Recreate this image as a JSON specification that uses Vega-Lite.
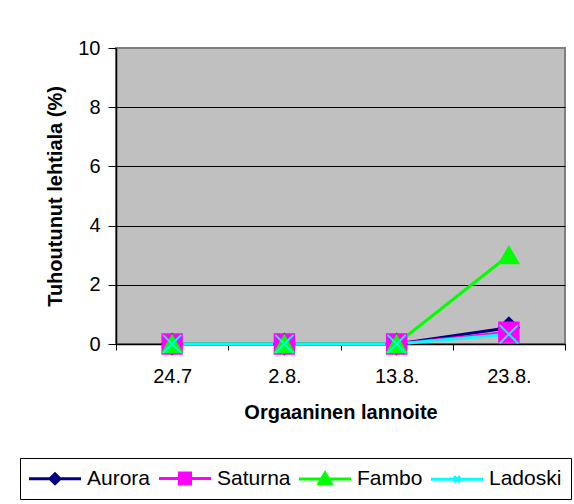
{
  "$schema": "https://vega.github.io/schema/vega-lite/v6.json",
  "width": 449,
  "height": 296,
  "autosize": {"type": "none"},
  "padding": {"left": 116, "top": 48, "right": 9, "bottom": 160},
  "background": "white",
  "config": {
    "font": "Liberation Sans",
    "view": {"fill": "#C0C0C0", "stroke": "#808080", "strokeWidth": 2},
    "axis": {"labelColor": "black", "titleColor": "black", "domainColor": "black", "tickColor": "black", "labelFont": "Liberation Sans", "titleFont": "Liberation Sans"}
  },
  "data": {
    "values": [
      {"date": "24.7", "series": "Aurora", "marker": "Aurora", "value": 0},
      {"date": "2.8.", "series": "Aurora", "marker": "Aurora", "value": 0},
      {"date": "13.8.", "series": "Aurora", "marker": "Aurora", "value": 0},
      {"date": "23.8.", "series": "Aurora", "marker": "Aurora", "value": 0.55},
      {"date": "24.7", "series": "Saturna", "marker": "Saturna", "value": 0},
      {"date": "2.8.", "series": "Saturna", "marker": "Saturna", "value": 0},
      {"date": "13.8.", "series": "Saturna", "marker": "Saturna", "value": 0},
      {"date": "23.8.", "series": "Saturna", "marker": "Saturna", "value": 0.4},
      {"date": "24.7", "series": "Fambo", "marker": "Fambo", "value": 0},
      {"date": "2.8.", "series": "Fambo", "marker": "Fambo", "value": 0},
      {"date": "13.8.", "series": "Fambo", "marker": "Fambo", "value": 0},
      {"date": "23.8.", "series": "Fambo", "marker": "Fambo", "value": 3.0},
      {"date": "24.7", "series": "Ladoski", "marker": "Ladoski", "value": 0},
      {"date": "2.8.", "series": "Ladoski", "marker": "Ladoski", "value": 0},
      {"date": "13.8.", "series": "Ladoski", "marker": "Ladoski", "value": 0},
      {"date": "23.8.", "series": "Ladoski", "marker": "Ladoski", "value": 0.33}
    ]
  },
  "encoding": {
    "x": {
      "field": "date",
      "type": "nominal",
      "sort": ["24.7", "2.8.", "13.8.", "23.8."],
      "bandPosition": 0.5,
      "scale": {"type": "band", "paddingInner": 0, "paddingOuter": 0},
      "axis": {
        "title": "Orgaaninen lannoite",
        "titleFontSize": 20,
        "titleFontWeight": "bold",
        "titlePadding": 16,
        "labelFontSize": 20,
        "labelAngle": 0,
        "labelPadding": 16,
        "tickBand": "extent",
        "tickSize": 6,
        "domainWidth": 1.5,
        "grid": false
      }
    },
    "y": {
      "field": "value",
      "type": "quantitative",
      "scale": {"domain": [0, 10], "nice": false},
      "axis": {
        "title": "Tuhoutunut lehtiala (%)",
        "titleFontSize": 20,
        "titleFontWeight": "bold",
        "titlePadding": 12,
        "values": [0, 2, 4, 6, 8, 10],
        "labelFontSize": 20,
        "labelPadding": 8,
        "tickSize": 8,
        "domainWidth": 1.5,
        "grid": true,
        "gridColor": {"condition": {"test": "datum.value === 10", "value": "#808080"}, "value": "black"},
        "gridWidth": 1.2,
        "gridOpacity": 1
      }
    }
  },
  "layer": [
    {
      "mark": {"type": "line", "strokeWidth": 3},
      "encoding": {
        "color": {
          "field": "series",
          "type": "nominal",
          "sort": ["Aurora", "Saturna", "Fambo", "Ladoski"],
          "scale": {"domain": ["Aurora", "Saturna", "Fambo", "Ladoski"], "range": ["#000080", "#FF00FF", "#00FF00", "#00FFFF"]},
          "legend": {
            "title": null,
            "orient": "none",
            "legendX": -96,
            "legendY": 410,
            "direction": "horizontal",
            "columns": 4,
            "symbolSize": 400,
            "symbolStrokeWidth": 3,
            "symbolType": "M-1.15,0L4.05,0",
            "labelFontSize": 21,
            "labelColor": "black",
            "labelFont": "Liberation Sans",
            "labelOffset": 35,
            "columnPadding": 2,
            "strokeColor": "black",
            "fillColor": "white",
            "padding": 9,
            "encode": {
              "symbols": {
                "update": {
                  "shape": {"signal": "datum.value === 'Aurora' ? 'M-1.15,0L4.05,0M1.45,-0.5L1.95,0L1.45,0.5L0.95,0Z' : datum.value === 'Saturna' ? 'M-1.15,0L4.05,0M0.9,-0.55L2.0,-0.55L2.0,0.55L0.9,0.55Z' : datum.value === 'Fambo' ? 'M-1.15,0L4.05,0M1.45,-0.6L2.05,0.45L0.85,0.45Z' : 'M-1.15,0L4.05,0M1.15,-0.3L1.75,0.3M1.15,0.3L1.75,-0.3'"},
                  "fill": {"signal": "datum.value === 'Aurora' ? '#000080' : datum.value === 'Saturna' ? '#FF00FF' : datum.value === 'Fambo' ? '#00FF00' : '#00FFFF'"},
                  "stroke": {"signal": "datum.value === 'Aurora' ? '#000080' : datum.value === 'Saturna' ? '#FF00FF' : datum.value === 'Fambo' ? '#00FF00' : '#00FFFF'"},
                  "strokeWidth": {"value": 3},
                  "size": {"value": 400},
                  "opacity": {"value": 1}
                }
              }
            }
          }
        }
      }
    },
    {
      "mark": {"type": "point", "filled": true, "opacity": 1, "strokeWidth": 2},
      "encoding": {
        "color": {
          "field": "marker",
          "type": "nominal",
          "scale": {"domain": ["Aurora", "Saturna", "Fambo", "Ladoski"], "range": ["#000080", "#FF00FF", "#00FF00", "#00FFFF"]},
          "legend": null
        },
        "shape": {
          "field": "marker",
          "type": "nominal",
          "scale": {"domain": ["Aurora", "Saturna", "Fambo", "Ladoski"], "range": ["diamond", "square", "triangle-up", "M-1,-1L1,1M-1,1L1,-1"]},
          "legend": null
        },
        "size": {
          "field": "marker",
          "type": "nominal",
          "scale": {"domain": ["Aurora", "Saturna", "Fambo", "Ladoski"], "range": [400, 330, 420, 289]},
          "legend": null
        },
        "stroke": {
          "field": "marker",
          "type": "nominal",
          "scale": {"domain": ["Aurora", "Saturna", "Fambo", "Ladoski"], "range": ["#000080", "#FF00FF", "#00FF00", "#00FFFF"]},
          "legend": null
        }
      }
    }
  ],
  "resolve": {"scale": {"color": "independent"}, "legend": {"color": "independent"}}
}
